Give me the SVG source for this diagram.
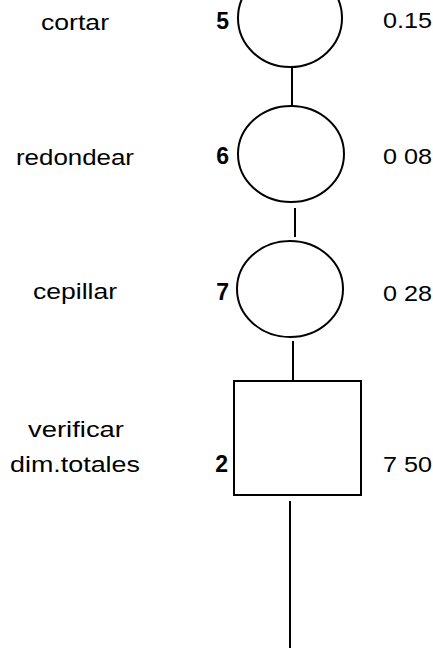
<svg xmlns="http://www.w3.org/2000/svg" width="433" height="648" viewBox="0 0 433 648">
  <style>
    .shape { fill: none; stroke: #000; stroke-width: 2; }
    .link { stroke: #000; stroke-width: 2; fill: none; }
    .label { font-family: "Liberation Sans", Arial, sans-serif; font-size: 22px; fill: #000; }
    .op { text-anchor: middle; }
    .num { font-weight: bold; text-anchor: end; font-size: 23px; }
    .time { text-anchor: start; }
  </style>
  <rect width="433" height="648" fill="#fff"/>

  <!-- flow connectors -->
  <g id="connectors">
    <line class="link" x1="292" y1="68" x2="292" y2="106"/>
    <line class="link" x1="295" y1="208" x2="295" y2="237"/>
    <line class="link" x1="293" y1="341" x2="293" y2="381"/>
    <line class="link" x1="290" y1="501" x2="290" y2="648"/>
  </g>

  <!-- operation 5 -->
  <g id="op5">
    <ellipse class="shape" cx="290" cy="18" rx="52" ry="49"/>
    <text class="label num" x="229" y="29">5</text>
    <text class="label op" x="75" y="30" textLength="68" lengthAdjust="spacingAndGlyphs">cortar</text>
    <text class="label time" x="383" y="28" textLength="49" lengthAdjust="spacingAndGlyphs">0.15</text>
  </g>

  <!-- operation 6 -->
  <g id="op6">
    <ellipse class="shape" cx="291" cy="154" rx="53" ry="48"/>
    <text class="label num" x="229" y="164">6</text>
    <text class="label op" x="75" y="165" textLength="118" lengthAdjust="spacingAndGlyphs">redondear</text>
    <text class="label time" x="383" y="164" textLength="49" lengthAdjust="spacingAndGlyphs">0 08</text>
  </g>

  <!-- operation 7 -->
  <g id="op7">
    <ellipse class="shape" cx="290" cy="289" rx="53" ry="48"/>
    <text class="label num" x="229" y="300">7</text>
    <text class="label op" x="75" y="299" textLength="84" lengthAdjust="spacingAndGlyphs">cepillar</text>
    <text class="label time" x="383" y="301" textLength="49" lengthAdjust="spacingAndGlyphs">0 28</text>
  </g>

  <!-- inspection 2 -->
  <g id="insp2">
    <rect class="shape" x="234" y="381" width="127" height="114"/>
    <text class="label num" x="228" y="472">2</text>
    <text class="label op" x="76" y="437" textLength="96" lengthAdjust="spacingAndGlyphs">verificar</text>
    <text class="label op" x="75" y="472" textLength="130" lengthAdjust="spacingAndGlyphs">dim.totales</text>
    <text class="label time" x="383" y="472" textLength="49" lengthAdjust="spacingAndGlyphs">7 50</text>
  </g>
</svg>
